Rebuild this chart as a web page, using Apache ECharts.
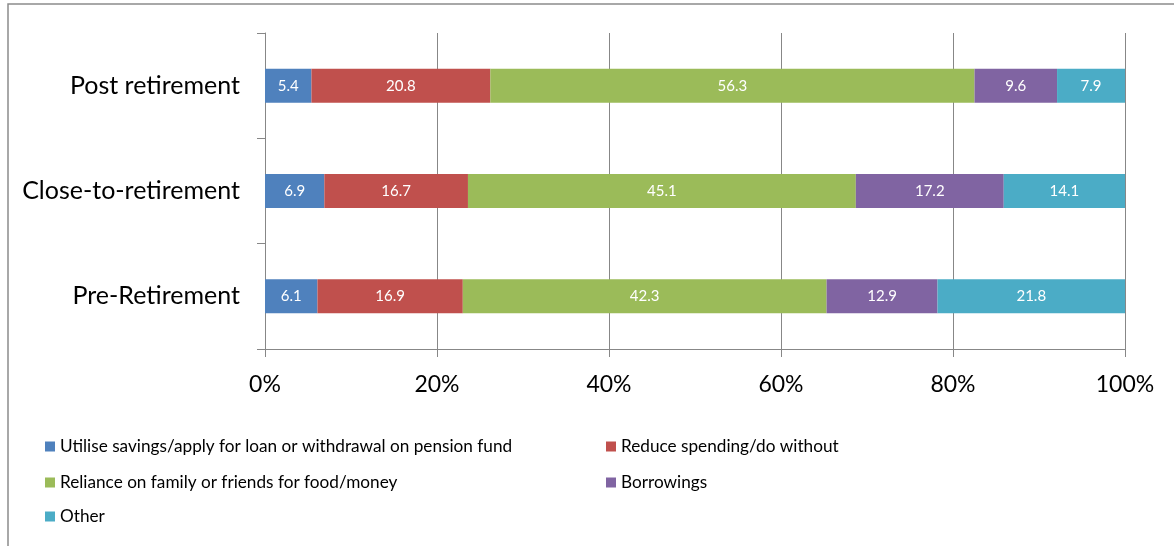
<!DOCTYPE html>
<html>
<head>
<meta charset="utf-8">
<title>Coping strategies by retirement stage</title>
<script src="https://cdn.jsdelivr.net/npm/echarts@6/dist/echarts.min.js"></script>
<style>
  html, body { margin: 0; padding: 0; background: #ffffff; }
  #chart { width: 1174px; height: 546px; }
</style>
</head>
<body>
<div id="chart"></div>
<script>
// Retirement stages, bottom to top on the category axis
const stages = ['Pre-Retirement', 'Close-to-retirement', 'Post retirement'];

// Share of respondents (%) per coping strategy, one value per stage
const savingsLoan = [6.1, 6.9, 5.4];
const reduceSpending = [16.9, 16.7, 20.8];
const relianceFamily = [42.3, 45.1, 56.3];
const borrowings = [12.9, 17.2, 9.6];
const other = [21.8, 14.1, 7.9];

const seriesNames = [
  'Utilise savings/apply for loan or withdrawal on pension fund',
  'Reduce spending/do without',
  'Reliance on family or friends for food/money',
  'Borrowings',
  'Other'
];
const seriesValues = [savingsLoan, reduceSpending, relianceFamily, borrowings, other];
const seriesColors = ['#4F81BD', '#C0504D', '#9BBB59', '#8064A2', '#4BACC6'];

// Percent ticks along the value axis
const tickMin = 0, tickMax = 100, tickStep = 20;

const FONT = 'Lato';
const GRAY = '#878787';

const chart = echarts.init(document.getElementById('chart'), null, { renderer: 'canvas' });

const series = seriesNames.map((name, i) => ({
  name: name,
  type: 'bar',
  stack: 'total',
  barWidth: 34,
  data: seriesValues[i],
  itemStyle: { color: seriesColors[i] },
  label: {
    show: true,
    position: 'inside',
    color: '#ffffff',
    fontFamily: FONT,
    fontSize: 15,
    formatter: p => p.value.toFixed(1)
  },
  emphasis: { disabled: true }
}));

// Legend laid out in two columns, three rows
const legendSlots = [
  { left: 45, top: 438 },
  { left: 606, top: 438 },
  { left: 45, top: 474 },
  { left: 606, top: 474 },
  { left: 45, top: 508 }
];
const legends = seriesNames.map((name, i) => ({
  data: [name],
  left: legendSlots[i].left,
  top: legendSlots[i].top,
  padding: 0,
  orient: 'horizontal',
  icon: 'rect',
  itemWidth: 10,
  itemHeight: 10,
  itemGap: 5,
  selectedMode: false,
  textStyle: { fontFamily: FONT, fontSize: 17.2, color: '#000000' }
}));

chart.setOption({
  animation: false,
  backgroundColor: '#ffffff',
  grid: { left: 265, right: 49, top: 33, bottom: 197, containLabel: false },
  xAxis: {
    type: 'value',
    min: tickMin,
    max: tickMax,
    interval: tickStep,
    axisLine: { show: true, lineStyle: { color: GRAY, width: 1 } },
    axisTick: { show: true, length: 8, lineStyle: { color: GRAY } },
    splitLine: { show: true, lineStyle: { color: GRAY, width: 1 } },
    axisLabel: {
      formatter: '{value}%',
      margin: 24,
      color: '#000000',
      fontFamily: FONT,
      fontSize: 23
    }
  },
  yAxis: {
    type: 'category',
    data: stages,
    axisLine: { show: true, lineStyle: { color: GRAY, width: 1 } },
    axisTick: { show: true, length: 8, lineStyle: { color: GRAY } },
    axisLabel: {
      margin: 25,
      color: '#000000',
      fontFamily: FONT,
      fontSize: 25
    }
  },
  legend: legends,
  series: series,
  graphic: [{
    type: 'polyline',
    silent: true,
    shape: { points: [[8, 546], [8, 4], [1174, 4]] },
    style: { stroke: '#8c8c8c', lineWidth: 1.5, fill: null }
  }]
});
</script>
</body>
</html>
